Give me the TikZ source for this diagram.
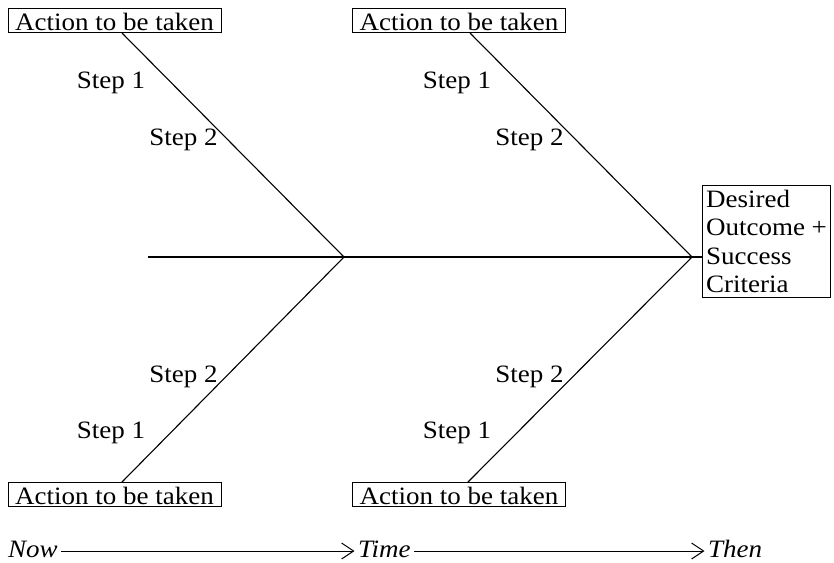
\documentclass[tikz,border=0pt]{standalone}
\usepackage{fontspec}
\setmainfont{Liberation Serif}[FakeStretch=1.08]
\usetikzlibrary{arrows.meta}
\begin{document}
\begin{tikzpicture}[x=1pt,y=-1pt,
  every node/.style={font=\fontsize{25}{28.5}\selectfont},
  actbox/.style={draw, line width=1pt, minimum width=213pt, minimum height=24pt, inner sep=0pt, text height=19.5pt, text depth=0pt},
  steplbl/.style={anchor=base, inner sep=0pt},
  bone/.style={line width=1.1pt},
  timelbl/.style={anchor=base west, inner xsep=3.5pt, inner ysep=0pt, text height=12pt, text depth=0pt, font=\fontsize{25}{29}\selectfont\itshape},
  timearrow/.style={line width=1pt, -{Straight Barb[length=12pt,width=16pt,line width=1pt]}}
]
\useasboundingbox (0,0) rectangle (834,562);
% boxes
\node[actbox] (a1) at (114.5,20.5) {Action to be taken};
\node[actbox] (a2) at (459,20.5) {Action to be taken};
\node[actbox] (a3) at (114.5,494.5) {Action to be taken};
\node[actbox] (a4) at (459,494.5) {Action to be taken};
\node[draw, line width=1pt, anchor=north west, minimum width=128pt, minimum height=112pt, align=left, inner sep=1.5pt] (out) at (702,185) {Desired\\Outcome +\\Success\\Criteria};
% spine
\coordinate (h0) at (148,257);
\coordinate (j1) at (344,257);
\coordinate (j2) at (692,257);
\draw[bone] (h0) -- (j1) -- (j2) -- (out.west |- j2);
\draw[bone] ([xshift=7.5pt]a1.south) -- (j1);
\draw[bone] ([xshift=7.5pt]a3.north) -- (j1);
\draw[bone] ([xshift=11pt]a2.south) -- (j2);
\draw[bone] ([xshift=9pt]a4.north) -- (j2);
% steps
\node[steplbl] (s11) at (111,88) {Step 1};
\node[steplbl] (s12) at (183.5,145) {Step 2};
\node[steplbl] (s21) at (457,88) {Step 1};
\node[steplbl] (s22) at (529.5,145) {Step 2};
\node[steplbl] (s32) at (183.5,382) {Step 2};
\node[steplbl] (s31) at (111,438) {Step 1};
\node[steplbl] (s42) at (529.5,382) {Step 2};
\node[steplbl] (s41) at (457,438) {Step 1};
% time line
\node[timelbl] (now) at (4.5,557) {Now};
\node[timelbl] (time) at (354.5,557) {Time};
\node[timelbl] (then) at (704.5,557) {Then};
\draw[timearrow] (now.east) -- (time.west);
\draw[timearrow] (time.east) -- (then.west);
\end{tikzpicture}
\end{document}
